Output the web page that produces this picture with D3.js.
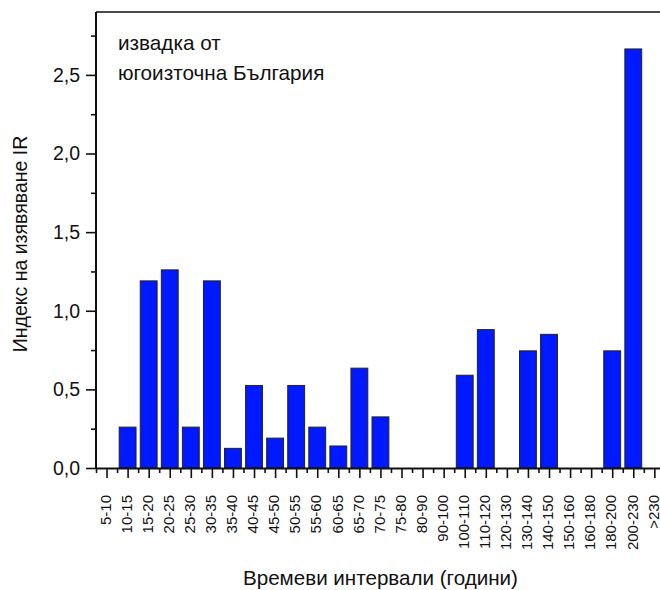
<!DOCTYPE html>
<html>
<head>
<meta charset="utf-8">
<script src="https://cdn.jsdelivr.net/npm/d3@7"></script>
<style>
  html, body { margin: 0; padding: 0; background: #fff; }
  svg { display: block; font-family: "Liberation Sans", Arial, sans-serif; }
  .xlab { white-space: pre; }
</style>
</head>
<body>
<svg id="chart" width="660" height="590"></svg>
<script>
// Time intervals (years) on the x axis
const categories = ["5-10","10-15","15-20","20-25","25-30","30-35","35-40","40-45","45-50","50-55",
  "55-60","60-65","65-70","70-75","75-80","80-90","90-100","100-110","110-120","120-130",
  "130-140","140-150","150-160","160-180","180-200","200-230",">230"];

// Tick label text as printed under the axis (some carry leading padding)
const tickLabels = ["5-10","10-15","15-20","20-25","25-30","30-35"," 35-40","40-45","45-50","50-55",
  "55-60","60-65","65-70","70-75","75-80","  80-90","  90-100","100-110","110-120","120-130",
  "130-140","140-150","150-160","160-180","180-200","200-230","  >230"];

// Manifestation index IR for each interval
const irValues = [0, 0.26, 1.19, 1.26, 0.26, 1.19, 0.125, 0.525, 0.19, 0.525,
  0.26, 0.14, 0.635, 0.325, 0, 0, 0, 0.59, 0.88, 0,
  0.745, 0.85, 0, 0, 0.745, 2.665, 0];

const yMajorTicks = [0, 0.5, 1.0, 1.5, 2.0, 2.5];
const yMinorTicks = [0.25, 0.75, 1.25, 1.75, 2.25, 2.75];

const svg = d3.select("#chart");
const plotLeft = 96, plotTop = 12, plotBottom = 468;
const step = 21.07;
const plotRight = plotLeft + categories.length * step;

// Positions 1..N, one per interval
const x = d3.scaleLinear().domain([0.5, categories.length + 0.5]).range([plotLeft, plotRight]);
const y = d3.scaleLinear().domain([0, 2.9]).range([plotBottom, plotTop]);

const positions = categories.map((c, i) => i + 1);
const bars = categories.map((c, i) => ({ pos: i + 1, value: irValues[i] })).filter(d => d.value > 0);

const barW = (x(1.4) - x(0.6));

// Bars
svg.append("g").selectAll("rect").data(bars).join("rect")
  .attr("x", d => x(d.pos) - barW / 2)
  .attr("y", d => y(d.value))
  .attr("width", barW)
  .attr("height", d => y(0) - y(d.value))
  .attr("fill", "#0019ff")
  .attr("stroke", "#222")
  .attr("stroke-width", 1);

// Frame: top edge and right edge of the plot
svg.append("path")
  .attr("d", `M${plotLeft},${plotTop}H${plotRight}V${plotBottom}`)
  .attr("fill", "none").attr("stroke", "#111").attr("stroke-width", 1.6);

// X axis: major ticks at interval centres, minor ticks between them
const xMinor = d3.range(0.5, categories.length + 1, 1);
svg.append("g").attr("transform", `translate(0,${plotBottom})`)
  .call(d3.axisBottom(x).tickValues(xMinor).tickSize(5).tickFormat(""))
  .call(g => g.select(".domain").remove())
  .call(g => g.selectAll("line").attr("stroke", "#111").attr("stroke-width", 1.6));

const xAxisG = svg.append("g").attr("transform", `translate(0,${plotBottom})`)
  .call(d3.axisBottom(x).tickValues(positions).tickSize(10).tickSizeOuter(0)
    .tickFormat(p => tickLabels[p - 1]));
xAxisG.select(".domain").attr("stroke", "#111").attr("stroke-width", 2);
xAxisG.selectAll("line").attr("stroke", "#111").attr("stroke-width", 1.6);
xAxisG.selectAll("text")
  .attr("class", "xlab")
  .attr("transform", "rotate(-90)")
  .attr("x", -27)
  .attr("y", 0)
  .attr("dy", "0.25em")
  .attr("text-anchor", "end")
  .attr("font-size", 15)
  .attr("fill", "#111");

// Y axis
svg.append("g").attr("transform", `translate(${plotLeft},0)`)
  .call(d3.axisLeft(y).tickValues(yMinorTicks).tickSize(5).tickFormat(""))
  .call(g => g.select(".domain").remove())
  .call(g => g.selectAll("line").attr("stroke", "#111").attr("stroke-width", 1.6));

const yAxisG = svg.append("g").attr("transform", `translate(${plotLeft},0)`)
  .call(d3.axisLeft(y).tickValues(yMajorTicks).tickSize(10).tickSizeOuter(0)
    .tickFormat(v => d3.format(".1f")(v).replace(".", ",")));
yAxisG.select(".domain").attr("d", `M0,${plotBottom}V${plotTop}`).attr("stroke", "#111").attr("stroke-width", 2);
yAxisG.selectAll("line").attr("stroke", "#111").attr("stroke-width", 1.6);
yAxisG.selectAll("text")
  .attr("x", -16)
  .attr("font-size", 19.5)
  .attr("fill", "#111");

// Axis titles
svg.append("text")
  .attr("transform", `translate(27,${(plotTop + plotBottom) / 2 + 4}) rotate(-90)`)
  .attr("text-anchor", "middle")
  .attr("font-size", 19.5)
  .attr("fill", "#111")
  .text("Индекс на изявяване IR");

svg.append("text")
  .attr("x", (plotLeft + plotRight) / 2)
  .attr("y", 585)
  .attr("text-anchor", "middle")
  .attr("font-size", 20.6)
  .attr("fill", "#111")
  .text("Времеви интервали (години)");

// Sample note
const note = svg.append("text").attr("font-size", 20.7).attr("fill", "#111");
note.append("tspan").attr("x", 118).attr("y", 50).text("извадка от");
note.append("tspan").attr("x", 118).attr("y", 80).text("югоизточна България");
</script>
</body>
</html>
